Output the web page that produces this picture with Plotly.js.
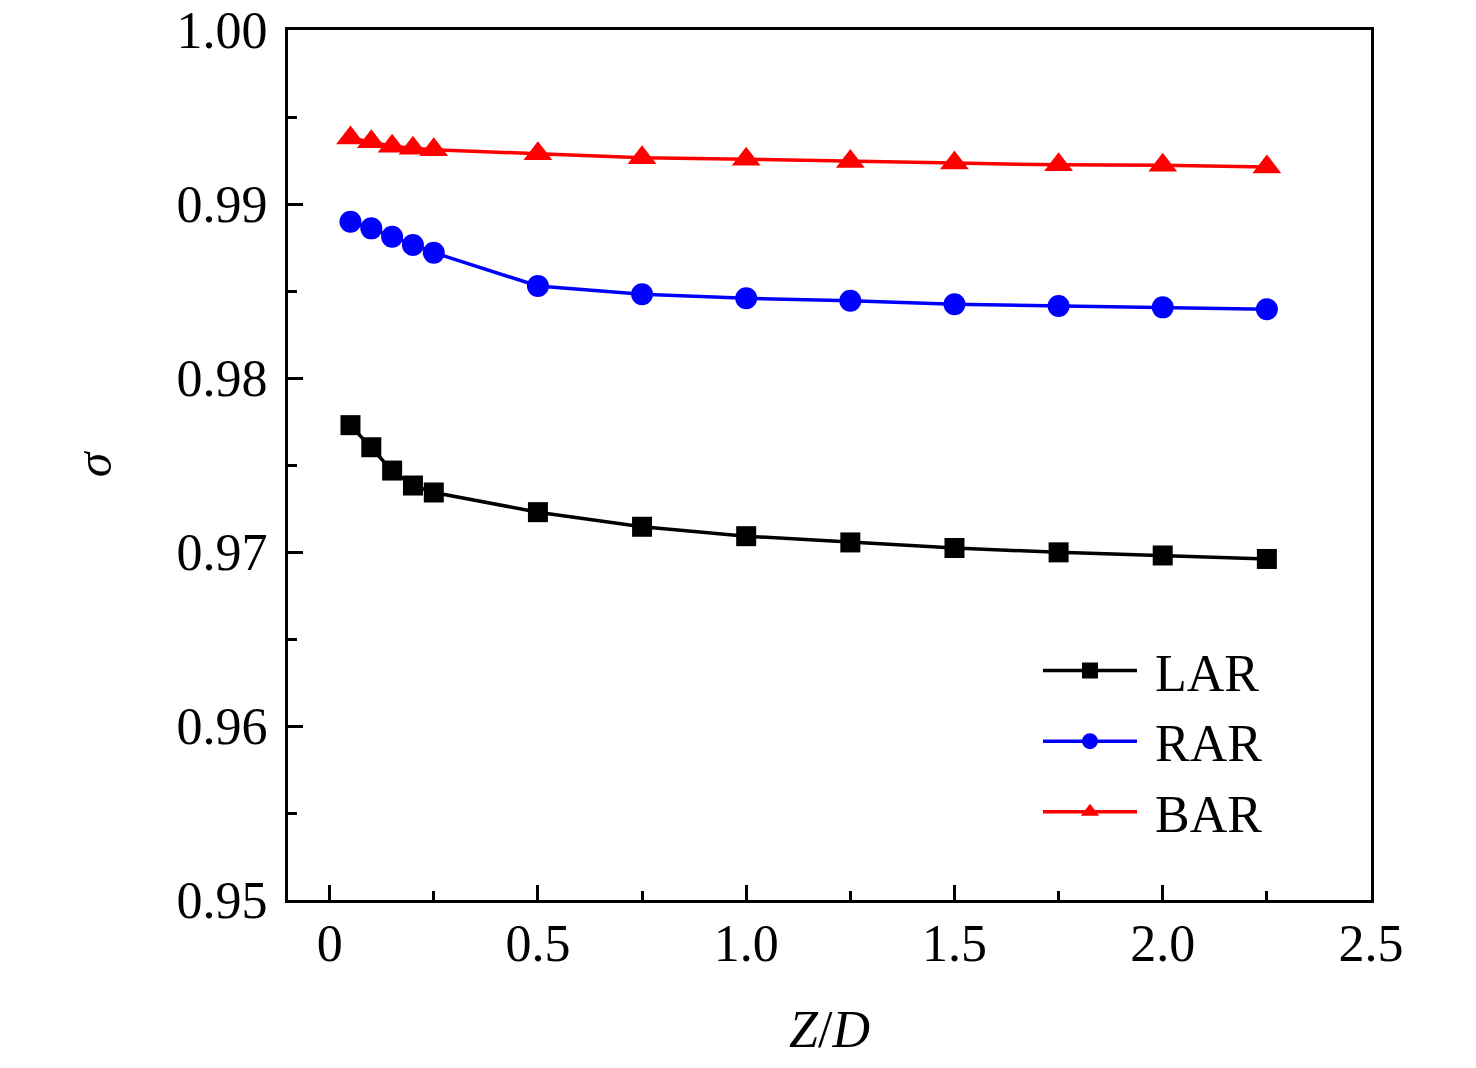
<!DOCTYPE html>
<html>
<head>
<meta charset="utf-8">
<script src="https://cdn.plot.ly/plotly-3.0.1.min.js"></script>
<style>
  html, body { margin: 0; padding: 0; background: #fff; }
  #plot { width: 1476px; height: 1068px; }
</style>
</head>
<body>
<div id="plot"></div>
<script>
// Z/D positions shared by all three series
const zd = [0.05, 0.1, 0.15, 0.2, 0.25, 0.5, 0.75, 1.0, 1.25, 1.5, 1.75, 2.0, 2.25];

const lar = [0.97729, 0.97602, 0.97468, 0.97382, 0.97342, 0.97229, 0.97145,
             0.97091, 0.97055, 0.97023, 0.96998, 0.96980, 0.96960];
const rar = [0.98898, 0.98860, 0.98812, 0.98764, 0.98720, 0.98529, 0.98481,
             0.98458, 0.98444, 0.98424, 0.98414, 0.98406, 0.98395];
const bar = [0.99379, 0.99358, 0.99332, 0.99320, 0.99312, 0.99289, 0.99266,
             0.99257, 0.99244, 0.99235, 0.99225, 0.99222, 0.99213];

const xTickVals = [0, 0.5, 1.0, 1.5, 2.0, 2.5];
const xTickText = ['0', '0.5', '1.0', '1.5', '2.0', '2.5'];
const yTickVals = [0.95, 0.96, 0.97, 0.98, 0.99, 1.00];
const yTickText = ['0.95', '0.96', '0.97', '0.98', '0.99', '1.00'];

const FONT = 'Liberation Serif, Times New Roman, serif';
const NBSP = '\u00a0';

const series = [
  { name: 'LAR', y: lar, color: '#000000', symbol: 'square', size: 20 },
  { name: 'RAR', y: rar, color: '#0000ff', symbol: 'circle', size: 22 },
  { name: 'BAR', y: bar, color: '#ff0000', symbol: 'triangle-up', size: 25 },
];

const traces = series.map((s) => ({
  x: zd,
  y: s.y,
  name: NBSP + s.name,
  type: 'scatter',
  mode: 'lines+markers',
  line: { color: s.color, width: 3.5 },
  marker: { color: s.color, symbol: s.symbol, size: s.size, line: { width: 0 } },
}));

const axisCommon = {
  showline: true,
  linecolor: '#000',
  linewidth: 3,
  mirror: true,
  showgrid: false,
  zeroline: false,
  ticks: 'inside',
  tickwidth: 3,
  ticklen: 15,
  tickcolor: '#000',
  tickmode: 'array',
  tickfont: { family: FONT, size: 52, color: '#000' },
};

const layout = {
  width: 1476,
  height: 1068,
  margin: { l: 288, r: 105, t: 30, b: 168 },
  paper_bgcolor: '#fff',
  plot_bgcolor: '#fff',
  font: { family: FONT, color: '#000' },
  xaxis: {
    ...axisCommon,
    range: [-0.1, 2.5],
    tickvals: xTickVals,
    ticktext: xTickText,
    ticklabelstandoff: -4,
    minor: { tickmode: 'linear', tick0: 0.25, dtick: 0.5, ticks: 'inside', ticklen: 9, tickwidth: 3, tickcolor: '#000' },
    title: { text: '<i>Z</i>/<i>D</i>', font: { family: FONT, size: 52 }, standoff: 40 },
  },
  yaxis: {
    ...axisCommon,
    range: [0.95, 1.0],
    tickvals: yTickVals,
    ticktext: yTickText,
    ticklabelstandoff: 7,
    minor: { tickmode: 'linear', tick0: 0.955, dtick: 0.01, ticks: 'inside', ticklen: 9, tickwidth: 3, tickcolor: '#000' },
    title: { text: '<i>σ</i>', font: { family: FONT, size: 50 }, standoff: 50 },
  },
  showlegend: true,
  legend: {
    x: 0.6925,
    y: 0.31,
    xanchor: 'left',
    yanchor: 'top',
    bgcolor: 'rgba(0,0,0,0)',
    borderwidth: 0,
    itemwidth: 94,
    tracegroupgap: 0,
    font: { family: FONT, size: 52, color: '#000' },
  },
};

Plotly.newPlot('plot', traces, layout, { displayModeBar: false, staticPlot: true });
</script>
</body>
</html>
